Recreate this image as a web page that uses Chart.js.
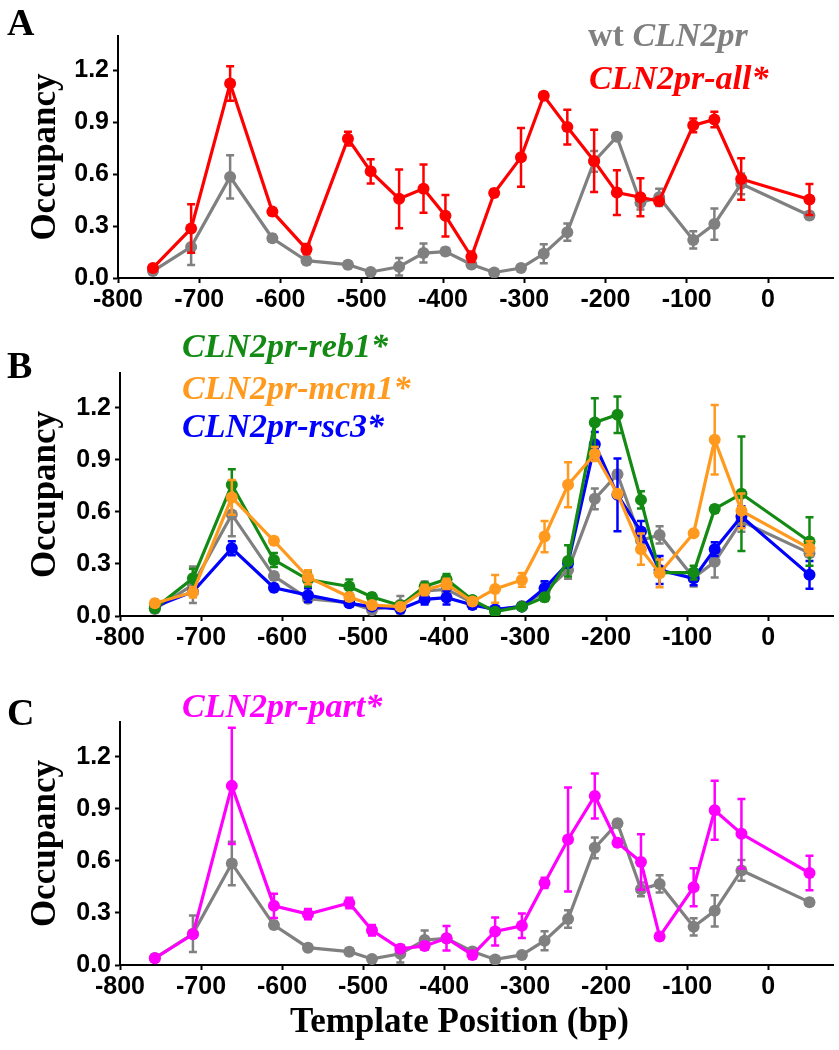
<!DOCTYPE html>
<html lang="en">
<head>
<meta charset="UTF-8">
<title>CLN2pr occupancy</title>
<script src="https://cdn.jsdelivr.net/npm/chart.js"></script>
<style>
  body { margin: 0; background: #fff; }
  #page { position: relative; width: 839px; height: 1050px; overflow: hidden; font-family: "Liberation Serif", serif; }
  .panel { position: absolute; left: 0; }
  .lbl { position: absolute; font-weight: bold; white-space: nowrap; line-height: 1; }
  .big { font-size: 38px; color: #000; }
  .leg { font-size: 34px; font-style: italic; }
</style>
</head>
<body>
<div id="page">
  <canvas id="chartA" class="panel" style="top:0" width="839" height="330"></canvas>
  <canvas id="chartB" class="panel" style="top:330px" width="839" height="330"></canvas>
  <canvas id="chartC" class="panel" style="top:660px" width="839" height="390"></canvas>

  <div class="lbl big" style="left:7px;top:3px">A</div>
  <div class="lbl big" style="left:7px;top:346px">B</div>
  <div class="lbl big" style="left:7px;top:693px">C</div>

  <div class="lbl leg" style="left:588px;top:18px;color:#808080"><span style="font-style:normal">wt </span>CLN2pr</div>
  <div class="lbl leg" style="left:589px;top:61px;color:#ff0000">CLN2pr-all*</div>
  <div class="lbl leg" style="left:182px;top:329px;color:#138a13">CLN2pr-reb1*</div>
  <div class="lbl leg" style="left:182px;top:371px;color:#ff9a1e">CLN2pr-mcm1*</div>
  <div class="lbl leg" style="left:182px;top:409px;color:#0000ff">CLN2pr-rsc3*</div>
  <div class="lbl leg" style="left:182px;top:689px;color:#ff00ff">CLN2pr-part*</div>

  <div class="lbl" style="left:290px;top:1003px;font-size:35px;color:#000">Template Position (bp)</div>
</div>

<script>
// template positions (bp) of the probed fragments
const positions = [-757, -710, -662, -610, -568, -517, -489, -454, -424, -397, -365, -337, -304, -276, -247, -214, -186, -157, -134, -92, -66, -33, 51];

const wtOcc  = [0.04, 0.18, 0.585, 0.23, 0.10, 0.077, 0.035, 0.065, 0.144, 0.153, 0.078, 0.032, 0.058, 0.14, 0.265, 0.675, 0.817, 0.436, 0.467, 0.22, 0.312, 0.545, 0.362];
const wtErr  = [0.01, 0.105, 0.125, 0.02, 0.02, 0.02, 0.01, 0.05, 0.055, 0.02, 0.02, 0.01, 0.01, 0.055, 0.05, 0.06, 0.02, 0.04, 0.05, 0.05, 0.09, 0.06, 0.02];

const allOcc = [0.058, 0.286, 1.125, 0.384, 0.167, 0.806, 0.617, 0.458, 0.517, 0.36, 0.123, 0.492, 0.698, 1.054, 0.873, 0.677, 0.494, 0.467, 0.444, 0.883, 0.917, 0.573, 0.454];
const allErr = [0.015, 0.14, 0.10, 0.02, 0.03, 0.04, 0.07, 0.17, 0.14, 0.12, 0.03, 0.02, 0.17, 0.02, 0.10, 0.18, 0.13, 0.11, 0.02, 0.04, 0.045, 0.12, 0.09];

const reb1Occ = [0.044, 0.217, 0.756, 0.323, 0.21, 0.17, 0.11, 0.06, 0.17, 0.212, 0.092, 0.025, 0.054, 0.108, 0.317, 1.115, 1.16, 0.669, 0.25, 0.25, 0.617, 0.704, 0.429];
const reb1Err = [0.01, 0.055, 0.09, 0.04, 0.04, 0.04, 0.02, 0.01, 0.02, 0.03, 0.01, 0.01, 0.01, 0.02, 0.09, 0.14, 0.105, 0.05, 0.02, 0.04, 0.02, 0.33, 0.14];

const mcm1Occ = [0.073, 0.137, 0.683, 0.433, 0.223, 0.11, 0.063, 0.054, 0.15, 0.185, 0.083, 0.156, 0.208, 0.458, 0.756, 0.933, 0.704, 0.385, 0.246, 0.477, 1.015, 0.606, 0.39];
const mcm1Err = [0.02, 0.03, 0.10, 0.02, 0.04, 0.02, 0.01, 0.01, 0.03, 0.03, 0.02, 0.08, 0.04, 0.09, 0.13, 0.04, 0.02, 0.09, 0.08, 0.01, 0.2, 0.1, 0.04];

const rsc3Occ = [0.054, 0.14, 0.39, 0.163, 0.12, 0.073, 0.054, 0.04, 0.096, 0.106, 0.063, 0.038, 0.054, 0.16, 0.304, 0.99, 0.698, 0.487, 0.265, 0.217, 0.385, 0.573, 0.237];
const rsc3Err = [0.01, 0.02, 0.04, 0.02, 0.04, 0.02, 0.01, 0.01, 0.03, 0.04, 0.02, 0.01, 0.01, 0.04, 0.02, 0.07, 0.21, 0.06, 0.08, 0.04, 0.04, 0.06, 0.08];

const partOcc = [0.039, 0.177, 1.032, 0.341, 0.293, 0.357, 0.2, 0.093, 0.11, 0.154, 0.058, 0.193, 0.226, 0.473, 0.723, 0.974, 0.704, 0.594, 0.164, 0.448, 0.891, 0.756, 0.53];
const partErr = [0.02, 0.02, 0.335, 0.07, 0.03, 0.03, 0.03, 0.02, 0.02, 0.07, 0.02, 0.08, 0.07, 0.03, 0.3, 0.13, 0.02, 0.16, 0.02, 0.11, 0.17, 0.2, 0.1];

const xTicks = [-800, -700, -600, -500, -400, -300, -200, -100, 0];
const yTicks = [0, 0.3, 0.6, 0.9, 1.2];

// vertical error bars, drawn under each dataset's line
const errorBars = {
    id: 'errorBars',
    beforeDatasetDraw(chart, args) {
        const ds = chart.data.datasets[args.index];
        if (!ds.err) return;
        const ctx = chart.ctx;
        const ys = chart.scales.y;
        ctx.save();
        ctx.strokeStyle = ds.borderColor;
        ctx.lineWidth = 2.5;
        args.meta.data.forEach((pt, i) => {
            const e = ds.err[i];
            if (!e) return;
            const v = ds.data[i].y;
            const top = ys.getPixelForValue(v + e);
            const bot = ys.getPixelForValue(v - e);
            ctx.beginPath();
            ctx.moveTo(pt.x, top); ctx.lineTo(pt.x, bot);
            ctx.moveTo(pt.x - 4, top); ctx.lineTo(pt.x + 4, top);
            ctx.moveTo(pt.x - 4, bot); ctx.lineTo(pt.x + 4, bot);
            ctx.stroke();
        });
        ctx.restore();
    }
};

function series(vals, err, color) {
    return {
        data: positions.map((x, i) => ({ x: x, y: vals[i] })),
        err: err,
        borderColor: color,
        backgroundColor: color,
        borderWidth: 3.2,
        pointRadius: 6,
        pointBorderWidth: 0,
        tension: 0,
        fill: false
    };
}

function makeChart(id, datasets, o) {
    const tickFont = { family: '"Liberation Sans", Arial, sans-serif', size: 25, weight: 'bold' };
    return new Chart(document.getElementById(id), {
        type: 'line',
        data: { datasets: datasets },
        plugins: [errorBars],
        options: {
            responsive: false,
            animation: false,
            layout: { padding: { top: o.top, right: o.right, bottom: 0, left: 0 } },
            plugins: { legend: { display: false }, tooltip: { enabled: false } },
            scales: {
                x: {
                    type: 'linear', min: -800, max: 80,
                    afterBuildTicks: s => { s.ticks = xTicks.map(v => ({ value: v })); },
                    afterFit: s => { s.height = o.xh; },
                    border: { color: '#000', width: 2 },
                    grid: { drawOnChartArea: false, color: '#000', tickLength: 5, tickWidth: 2 },
                    ticks: { color: '#000', font: tickFont, padding: 2, maxRotation: 0, callback: v => String(v) }
                },
                y: {
                    type: 'linear', min: 0, max: 1.4,
                    afterBuildTicks: s => { s.ticks = yTicks.map(v => ({ value: v })); },
                    afterFit: s => { s.width = o.yw; },
                    border: { color: '#000', width: 2 },
                    grid: { drawOnChartArea: false, color: '#000', tickLength: 5, tickWidth: 2 },
                    ticks: { color: '#000', font: tickFont, padding: 4, callback: v => v.toFixed(1) },
                    title: {
                        display: true, text: 'Occupancy', color: '#000',
                        font: { family: '"Liberation Serif", serif', size: 35, weight: 'bold' },
                        padding: { top: 25, bottom: 0 }
                    }
                }
            }
        }
    });
}

makeChart('chartA', [
    series(allOcc, allErr, '#ff0000'),
    series(wtOcc, wtErr, '#808080')
], { top: 36, right: 2, xh: 52, yw: 118 });

makeChart('chartB', [
    series(mcm1Occ, mcm1Err, '#ff9a1e'),
    series(reb1Occ, reb1Err, '#138a13'),
    series(rsc3Occ, rsc3Err, '#0000ff'),
    series(wtOcc, wtErr, '#808080')
], { top: 43, right: 4, xh: 44, yw: 120 });

makeChart('chartC', [
    series(partOcc, partErr, '#ff00ff'),
    series(wtOcc, wtErr, '#808080')
], { top: 62, right: 5, xh: 85, yw: 120 });
</script>
</body>
</html>
